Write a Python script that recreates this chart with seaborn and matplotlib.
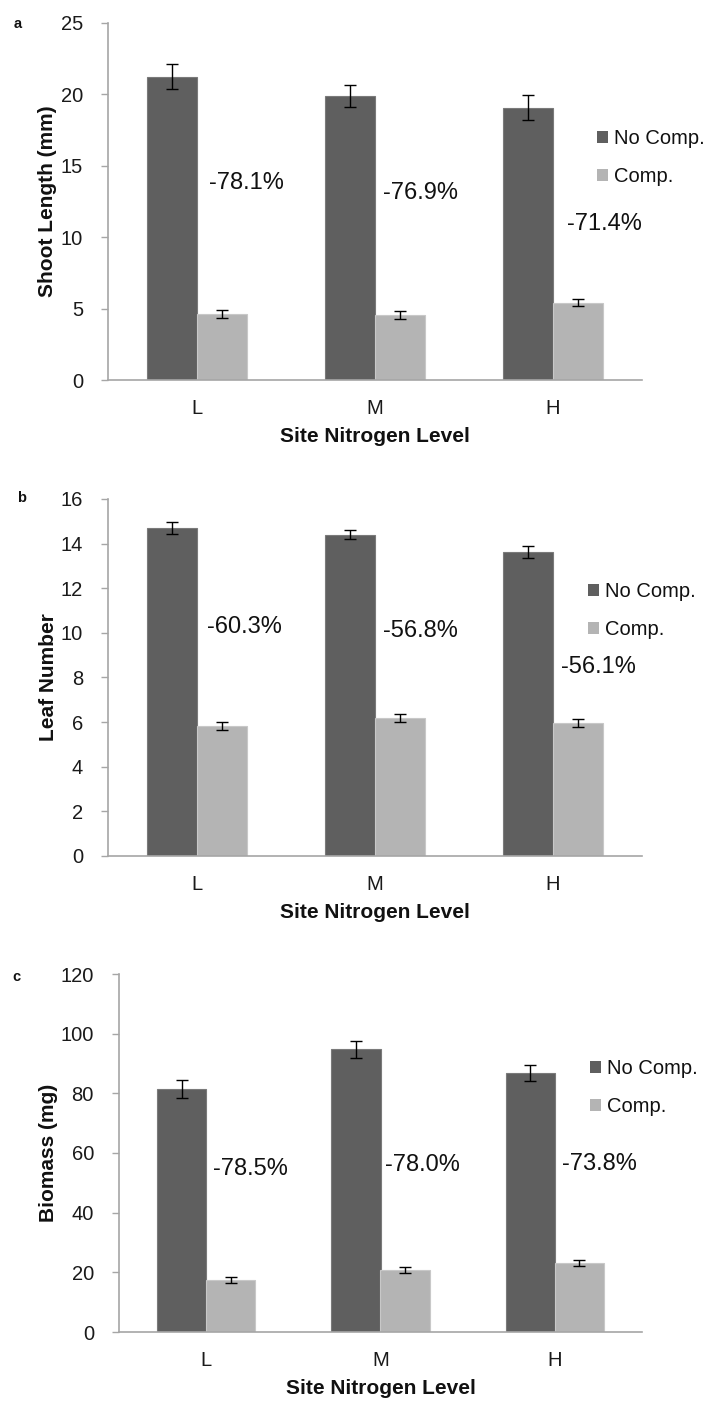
import numpy as np
import pandas as pd
import matplotlib
matplotlib.use("Agg")
import matplotlib.pyplot as plt
import seaborn as sns

# ---------------- data ----------------
levels = ["L", "M", "H"]
groups = ["No Comp.", "Comp."]

shoot_nocomp = [21.25, 19.88, 19.08]
shoot_comp = [4.63, 4.55, 5.42]
shoot_nocomp_err = [0.9, 0.75, 0.85]
shoot_comp_err = [0.27, 0.25, 0.25]
shoot_pct = ["-78.1%", "-76.9%", "-71.4%"]

leaf_nocomp = [14.68, 14.40, 13.62]
leaf_comp = [5.82, 6.20, 5.97]
leaf_nocomp_err = [0.27, 0.20, 0.27]
leaf_comp_err = [0.18, 0.18, 0.18]
leaf_pct = ["-60.3%", "-56.8%", "-56.1%"]

bio_nocomp = [81.5, 94.7, 86.8]
bio_comp = [17.4, 20.9, 23.0]
bio_nocomp_err = [3.0, 2.8, 2.7]
bio_comp_err = [0.9, 1.0, 1.0]
bio_pct = ["-78.5%", "-78.0%", "-73.8%"]

panel_letters = ["a", "b", "c"]
ylabels = ["Shoot Length (mm)", "Leaf Number", "Biomass (mg)"]
xlabel = "Site Nitrogen Level"
yticks_list = [[0, 5, 10, 15, 20, 25], [0, 2, 4, 6, 8, 10, 12, 14, 16], [0, 20, 40, 60, 80, 100, 120]]

# ---------------- layout / style ----------------
W, H = 711, 1403
DPI = 100
dark = "#5f5f5f"
light = "#b4b4b4"
spine_col = "#a6a6a6"
FONT = ["Liberation Sans", "DejaVu Sans"]

# axes boxes in pixels: left, top, right, bottom
boxes = [(108, 23, 642, 380), (108, 499, 642, 856), (119, 974, 642, 1332)]
# annotation positions (data coords)
pct_pos = [
    [(0.275, 13.8), (1.253, 13.1), (2.287, 10.9)],
    [(0.264, 10.27), (1.253, 10.09), (2.253, 8.47)],
    [(0.252, 54.6), (1.238, 56.0), (2.254, 56.3)],
]
legend_pos = [(597, 129), (588, 582), (590, 1059)]  # pixel top-left
ylabel_x = [48, 48, 49]
letter_pos = [(18, 24), (22, 498), (16, 977)]

sns.set_theme(style="white")
plt.rcParams["font.family"] = FONT

fig = plt.figure(figsize=(W / DPI, H / DPI), dpi=DPI)

datasets = [
    (shoot_nocomp, shoot_comp, shoot_nocomp_err, shoot_comp_err, shoot_pct),
    (leaf_nocomp, leaf_comp, leaf_nocomp_err, leaf_comp_err, leaf_pct),
    (bio_nocomp, bio_comp, bio_nocomp_err, bio_comp_err, bio_pct),
]

for i, (nc, c, nce, ce, pct) in enumerate(datasets):
    l, t, r, b = boxes[i]
    ax = fig.add_axes([l / W, 1 - b / H, (r - l) / W, (b - t) / H])
    df = pd.DataFrame({
        "level": levels * 2,
        "group": [groups[0]] * 3 + [groups[1]] * 3,
        "value": list(nc) + list(c),
        "err": list(nce) + list(ce),
    })
    sns.barplot(data=df, x="level", y="value", hue="group", order=levels,
                hue_order=groups, palette=[dark, light], width=0.565,
                errorbar=None, ax=ax, saturation=1, legend=True)
    # bar edges
    for p, col in zip(ax.patches[:6], [dark] * 3 + [light] * 3):
        p.set_edgecolor("#7a7a7a" if col == dark else "#c8c8c8")
        p.set_linewidth(0.8)
    # error bars from bar patches
    bars = [p for p in ax.patches if p.get_height() > 0][:6]
    xs = [p.get_x() + p.get_width() / 2 for p in bars]
    hs = [p.get_height() for p in bars]
    ax.errorbar(xs, hs, yerr=df["err"].values, fmt="none", ecolor="black",
                elinewidth=1, capsize=4, capthick=1, zorder=5)

    ymax = yticks_list[i][-1]
    ax.set_ylim(0, ymax)
    ax.set_xlim(-0.5, 2.5)
    ax.set_yticks(yticks_list[i])
    ax.set_yticklabels([str(v) for v in yticks_list[i]], fontsize=14.5, color="#1a1a1a")
    ax.set_xticks(range(3))
    ax.set_xticklabels(levels, fontsize=14.5, color="#1a1a1a")

    for s in ["top", "right"]:
        ax.spines[s].set_visible(False)
    for s in ["left", "bottom"]:
        ax.spines[s].set_color(spine_col)
        ax.spines[s].set_linewidth(1.2)
    ax.tick_params(axis="y", which="major", left=True, length=5, width=1,
                   color=spine_col, pad=13)
    ax.tick_params(axis="x", which="major", bottom=False, length=0, pad=14)

    ax.set_ylabel(ylabels[i], fontsize=15, fontweight="bold", color="#111111",
                  va="center")
    ax.yaxis.set_label_coords((ylabel_x[i] - l) / (r - l), 0.5)
    ax.set_xlabel(xlabel, fontsize=15, fontweight="bold", color="#111111", va="center")
    ax.xaxis.set_label_coords(0.5, -(57) / (b - t))

    for txt, (px, py) in zip(pct, pct_pos[i]):
        ax.text(px, py, txt, fontsize=17, ha="center", va="center", color="#111111")

    lx, ly = legend_pos[i]
    leg = ax.legend(loc="upper left", bbox_to_anchor=(lx / W, 1 - ly / H),
                    bbox_transform=fig.transFigure, frameon=False, fontsize=14.5,
                    handlelength=0.55, handleheight=0.55, handletextpad=0.3,
                    labelspacing=0.95, borderpad=0, borderaxespad=0)
    for txt in leg.get_texts():
        txt.set_color("#111111")
    for h in leg.legend_handles:
        h.set_edgecolor("none")

    fx, fy = letter_pos[i]
    fig.text(fx / W, 1 - fy / H, panel_letters[i], fontsize=10.5, fontweight="bold",
             ha="center", va="center", color="#111111")

fig.savefig("out.png", dpi=DPI)
